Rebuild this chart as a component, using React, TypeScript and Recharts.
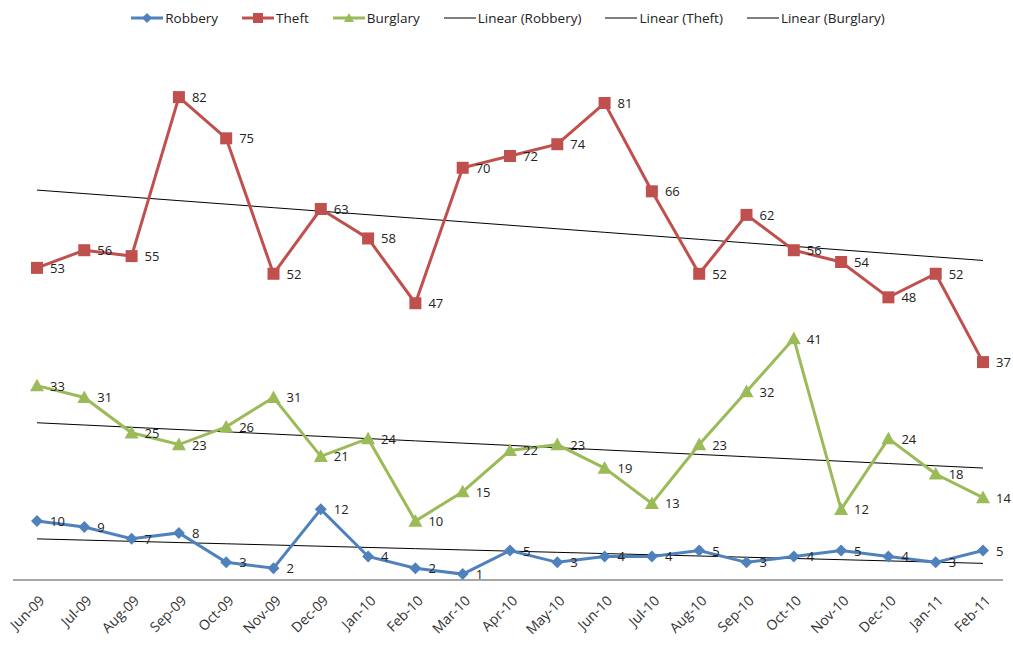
import React from "react";
import { LineChart, Line, XAxis, YAxis, Legend } from "recharts";

const months = [
  "Jun-09", "Jul-09", "Aug-09", "Sep-09", "Oct-09", "Nov-09", "Dec-09",
  "Jan-10", "Feb-10", "Mar-10", "Apr-10", "May-10", "Jun-10", "Jul-10",
  "Aug-10", "Sep-10", "Oct-10", "Nov-10", "Dec-10", "Jan-11", "Feb-11",
];
const robbery = [10, 9, 7, 8, 3, 2, 12, 4, 2, 1, 5, 3, 4, 4, 5, 3, 4, 5, 4, 3, 5];
const theft = [53, 56, 55, 82, 75, 52, 63, 58, 47, 70, 72, 74, 81, 66, 52, 62, 56, 54, 48, 52, 37];
const burglary = [33, 31, 25, 23, 26, 31, 21, 24, 10, 15, 22, 23, 19, 13, 23, 32, 41, 12, 24, 18, 14];

const BLUE = "#4F81BD";
const RED = "#C0504D";
const GREEN = "#9BBB59";
const FONT = "'Open Sans', sans-serif";

// least-squares trend, like Excel's "Linear" trendline
const linearFit = (vals: number[]) => {
  const n = vals.length;
  const xm = (n - 1) / 2;
  const ym = vals.reduce((a, b) => a + b, 0) / n;
  let num = 0;
  let den = 0;
  vals.forEach((v, i) => {
    num += (i - xm) * (v - ym);
    den += (i - xm) * (i - xm);
  });
  const slope = num / den;
  return vals.map((_, i) => ym + slope * (i - xm));
};

const robberyTrend = linearFit(robbery);
const theftTrend = linearFit(theft);
const burglaryTrend = linearFit(burglary);

const data = months.map((m, i) => ({
  month: m,
  robbery: robbery[i],
  theft: theft[i],
  burglary: burglary[i],
  robberyTrend: robberyTrend[i],
  theftTrend: theftTrend[i],
  burglaryTrend: burglaryTrend[i],
}));

const Diamond = ({ cx, cy, color, s = 6 }: any) => (
  <path d={`M${cx},${cy - s}L${cx + s},${cy}L${cx},${cy + s}L${cx - s},${cy}Z`} fill={color} />
);
const Square = ({ cx, cy, color, s = 6 }: any) => (
  <rect x={cx - s} y={cy - s} width={s * 2} height={s * 2} fill={color} />
);
const Triangle = ({ cx, cy, color, s = 7 }: any) => (
  <path d={`M${cx},${cy - s}L${cx + s},${cy + s * 0.8}L${cx - s},${cy + s * 0.8}Z`} fill={color} />
);

const ValueLabel = (props: any) => {
  const { x, y, value } = props;
  return (
    <text x={x + 13} y={y + 5} fontSize={13} fill="#222" fontFamily={FONT}>
      {value}
    </text>
  );
};

const MonthTick = ({ x, y, payload }: any) => (
  <g transform={`translate(${x + 5},${y + 10})`}>
    <text textAnchor="end" transform="rotate(-45)" fontSize={14} fill="#333" fontFamily={FONT} dy="0.35em">
      {payload.value}
    </text>
  </g>
);

const legendItems = [
  { name: "Robbery", color: BLUE, marker: "diamond" },
  { name: "Theft", color: RED, marker: "square" },
  { name: "Burglary", color: GREEN, marker: "triangle" },
  { name: "Linear (Robbery)", color: "#000", marker: "" },
  { name: "Linear (Theft)", color: "#000", marker: "" },
  { name: "Linear (Burglary)", color: "#000", marker: "" },
];

const LegendContent = () => (
  <div style={{ display: "flex", justifyContent: "center", gap: 24, fontFamily: FONT, fontSize: 13.5, color: "#222", height: 18 }}>
    {legendItems.map((it) => (
      <div key={it.name} style={{ display: "flex", alignItems: "center", gap: 2 }}>
        <svg width={32} height={14}>
          <line x1={0} y1={7} x2={32} y2={7} stroke={it.color} strokeWidth={it.marker ? 3 : 1} />
          {it.marker === "diamond" && <Diamond cx={16} cy={7} color={it.color} s={5} />}
          {it.marker === "square" && <Square cx={16} cy={7} color={it.color} s={5} />}
          {it.marker === "triangle" && <Triangle cx={16} cy={7} color={it.color} s={5} />}
        </svg>
        <span>{it.name}</span>
      </div>
    ))}
  </div>
);

export default function App() {
  return (
    <div style={{ position: "absolute", left: 0, top: 0, width: 1013, height: 648, background: "#fff" }}>
      <LineChart width={1013} height={648} data={data} margin={{ top: 32, right: 10, bottom: 0, left: 13 }}>
        <XAxis
          dataKey="month"
          tick={<MonthTick />}
          tickLine={false}
          axisLine={{ stroke: "#a6a6a6", strokeWidth: 2 }}
          height={68}
          interval={0}
          padding={{ left: 24, right: 20 }}
        />
        <YAxis hide domain={[0, 90]} />
        <Legend verticalAlign="top" height={18} content={<LegendContent />} wrapperStyle={{ top: 9 }} />
        <Line dataKey="robberyTrend" stroke="#000" strokeWidth={1} dot={false} isAnimationActive={false} />
        <Line dataKey="theftTrend" stroke="#000" strokeWidth={1} dot={false} isAnimationActive={false} />
        <Line dataKey="burglaryTrend" stroke="#000" strokeWidth={1} dot={false} isAnimationActive={false} />
        <Line
          dataKey="robbery"
          stroke={BLUE}
          strokeWidth={3}
          dot={(p: any) => <Diamond key={p.index} cx={p.cx} cy={p.cy} color={BLUE} />}
          label={<ValueLabel />}
          isAnimationActive={false}
        />
        <Line
          dataKey="theft"
          stroke={RED}
          strokeWidth={3}
          dot={(p: any) => <Square key={p.index} cx={p.cx} cy={p.cy} color={RED} />}
          label={<ValueLabel />}
          isAnimationActive={false}
        />
        <Line
          dataKey="burglary"
          stroke={GREEN}
          strokeWidth={3}
          dot={(p: any) => <Triangle key={p.index} cx={p.cx} cy={p.cy} color={GREEN} />}
          label={<ValueLabel />}
          isAnimationActive={false}
        />
      </LineChart>
    </div>
  );
}
